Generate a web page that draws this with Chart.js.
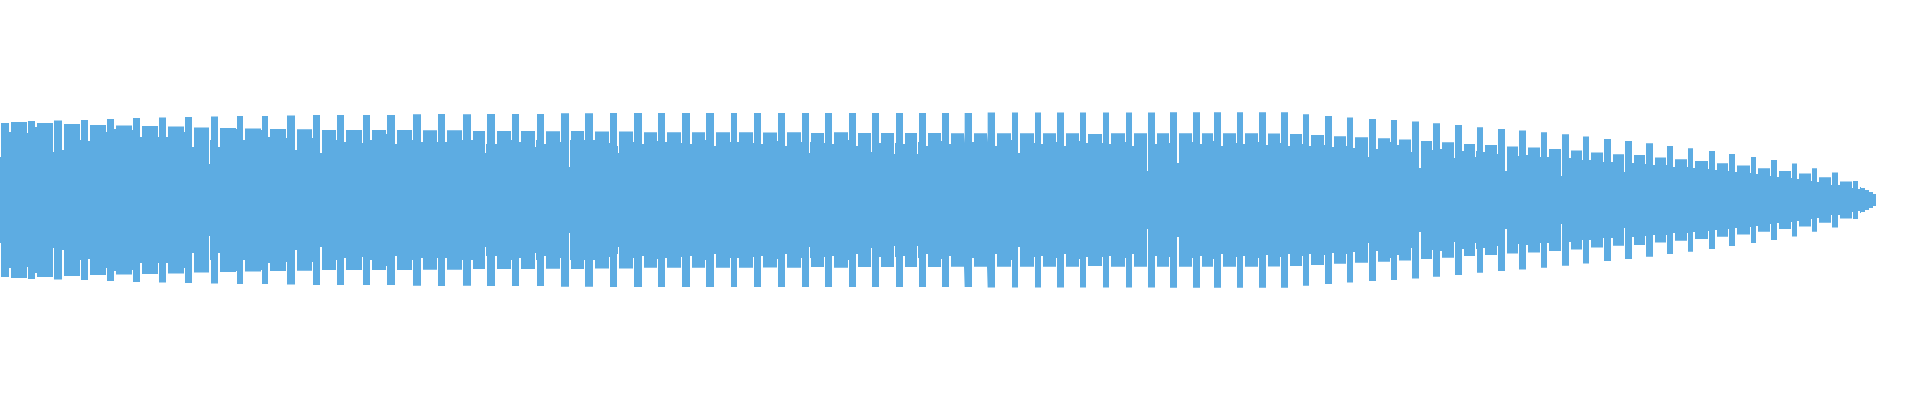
<!DOCTYPE html>
<html>
<head>
<meta charset="utf-8">
<title>Waveform</title>
<script src="https://cdn.jsdelivr.net/npm/chart.js@4.4.1/dist/chart.umd.min.js"></script>
<style>
    html, body { margin: 0; padding: 0; background: #ffffff; }
    #wrap { width: 1920px; height: 400px; position: relative; }
</style>
</head>
<body>
<div id="wrap"><canvas id="wave-chart"></canvas></div>
<script>
// Pulses of the waveform: where each loud pulse starts / ends and its level,
// then the level of the quieter part until the next pulse (normalized -1..1)
var peakStart = [
    1, 28, 54, 81, 107, 133, 159, 185, 211, 237,
    262, 287, 313, 337, 363, 387, 413, 438, 463, 487,
    512, 537, 561, 585, 610, 634, 658, 682, 706, 731,
    754, 778, 802, 825, 849, 872, 896, 919, 942, 965,
    988, 1012, 1035, 1057, 1080, 1103, 1126, 1148, 1170, 1193,
    1214, 1237, 1259, 1281, 1303, 1325, 1347, 1369, 1391, 1412,
    1433, 1455, 1477, 1498, 1519, 1541, 1562, 1583, 1604, 1625,
    1646, 1667, 1688, 1709, 1729, 1751, 1771, 1792, 1812, 1832,
    1853
];
var peakEnd = [
    9, 35, 62, 88, 114, 140, 166, 192, 218, 243,
    268, 295, 320, 344, 370, 395, 421, 445, 471, 495,
    519, 544, 569, 593, 617, 642, 665, 690, 714, 737,
    761, 785, 809, 832, 856, 879, 903, 926, 949, 972,
    995, 1018, 1041, 1064, 1086, 1109, 1132, 1155, 1177, 1200,
    1221, 1243, 1266, 1288, 1309, 1332, 1353, 1376, 1397, 1419,
    1440, 1462, 1483, 1505, 1526, 1547, 1569, 1589, 1611, 1632,
    1653, 1673, 1693, 1715, 1735, 1756, 1777, 1797, 1817, 1838,
    1858
];
var peakAmp = [
    0.385, 0.395, 0.398, 0.4, 0.405, 0.41, 0.413, 0.415, 0.418, 0.42,
    0.42, 0.423, 0.425, 0.425, 0.425, 0.425, 0.429, 0.43, 0.429, 0.43,
    0.43, 0.43, 0.434, 0.434, 0.435, 0.435, 0.435, 0.435, 0.435, 0.435,
    0.435, 0.435, 0.435, 0.435, 0.435, 0.435, 0.435, 0.435, 0.435, 0.435,
    0.437, 0.437, 0.437, 0.437, 0.437, 0.437, 0.437, 0.438, 0.439, 0.439,
    0.439, 0.439, 0.439, 0.439, 0.429, 0.42, 0.412, 0.405, 0.4, 0.392,
    0.384, 0.375, 0.364, 0.355, 0.347, 0.339, 0.329, 0.317, 0.305, 0.295,
    0.284, 0.27, 0.259, 0.245, 0.23, 0.215, 0.2, 0.182, 0.159, 0.137,
    0.095
];
var bodyAmp = [
    0.39, 0.385, 0.38, 0.375, 0.373, 0.37, 0.368, 0.363, 0.36, 0.358,
    0.355, 0.354, 0.35, 0.35, 0.35, 0.35, 0.349, 0.349, 0.345, 0.345,
    0.345, 0.344, 0.345, 0.342, 0.342, 0.339, 0.339, 0.339, 0.339, 0.339,
    0.337, 0.339, 0.335, 0.339, 0.335, 0.335, 0.335, 0.335, 0.334, 0.334,
    0.334, 0.334, 0.334, 0.334, 0.33, 0.334, 0.334, 0.334, 0.334, 0.334,
    0.334, 0.334, 0.332, 0.33, 0.325, 0.319, 0.314, 0.309, 0.302, 0.295,
    0.289, 0.28, 0.275, 0.267, 0.262, 0.255, 0.247, 0.237, 0.229, 0.225,
    0.212, 0.204, 0.195, 0.184, 0.172, 0.159, 0.145, 0.132, 0.114, 0.092,
    0.065
];
// Short drop just before each pulse and just after it
var preDip = [
    0.3, 0.335, 0.34, 0.3, 0.34, 0.35, 0.315, 0.34, 0.3, 0.355,
    0.35, 0.31, 0.31, 0.3, 0.285, 0.33, 0.3, 0.29, 0.3, 0.28,
    0.3, 0.3, 0.29, 0.3, 0.285, 0.29, 0.295, 0.285, 0.3, 0.29,
    0.285, 0.295, 0.29, 0.285, 0.3, 0.29, 0.285, 0.29, 0.295, 0.285,
    0.29, 0.3, 0.285, 0.29, 0.295, 0.285, 0.29, 0.29, 0.285, 0.29,
    0.295, 0.285, 0.29, 0.285, 0.28, 0.275, 0.27, 0.265, 0.29, 0.24,
    0.25, 0.21, 0.245, 0.23, 0.22, 0.215, 0.205, 0.2, 0.19, 0.185,
    0.18, 0.175, 0.165, 0.155, 0.145, 0.135, 0.12, 0.11, 0.095, 0.075,
    0.06
];
var postDip = [
    0.34, 0.365, 0.25, 0.295, 0.355, 0.315, 0.315, 0.265, 0.265, 0.3,
    0.315, 0.25, 0.235, 0.29, 0.3, 0.28, 0.29, 0.29, 0.3, 0.28,
    0.29, 0.28, 0.3, 0.3, 0.27, 0.28, 0.29, 0.28, 0.27, 0.29,
    0.28, 0.27, 0.29, 0.28, 0.27, 0.285, 0.28, 0.27, 0.28, 0.29,
    0.27, 0.235, 0.28, 0.27, 0.285, 0.28, 0.27, 0.28, 0.185, 0.28,
    0.27, 0.28, 0.275, 0.27, 0.27, 0.265, 0.26, 0.255, 0.275, 0.16,
    0.255, 0.245, 0.24, 0.145, 0.225, 0.215, 0.21, 0.2, 0.19, 0.185,
    0.175, 0.165, 0.16, 0.15, 0.14, 0.13, 0.115, 0.105, 0.09, 0.075,
    0.055
];

// Fade-out at the very end
var tailX = [1861, 1865, 1869, 1873];
var tailAmp = [0.06, 0.05, 0.04, 0.03];
var endX = 1876;

// Single-sample dips that show as thin white lines
var notchX = [0, 53, 192, 209, 320, 485, 535, 569, 618, 809, 871, 894, 917, 1018, 1147, 1177, 1368, 1419, 1454, 1475, 1505, 1561, 1624];
var notchAmp = [0.215, 0.24, 0.265, 0.18, 0.235, 0.235, 0.265, 0.165, 0.235, 0.235, 0.24, 0.23, 0.23, 0.235, 0.145, 0.185, 0.215, 0.16, 0.21, 0.215, 0.145, 0.12, 0.14];

var WAVE_COLOR = '#5dace2';

// Turn the pulse lists into an amplitude per sample column
function buildEnvelope() {
    var env = [];
    var i, x;
    for (x = 0; x < endX; x++) {
        env.push(0);
    }
    for (i = 0; i < peakStart.length; i++) {
        var next = (i + 1 < peakStart.length) ? peakStart[i + 1] : tailX[0];
        for (x = peakStart[i]; x < peakEnd[i]; x++) env[x] = peakAmp[i];
        for (x = peakEnd[i]; x < next; x++) env[x] = bodyAmp[i];
    }
    for (i = 0; i < peakStart.length; i++) {
        if (peakStart[i] > 0) env[peakStart[i] - 1] = preDip[i];
        env[peakEnd[i]] = postDip[i];
        env[peakEnd[i] + 1] = postDip[i];
    }
    for (i = 0; i < tailX.length; i++) {
        var stop = (i + 1 < tailX.length) ? tailX[i + 1] : endX;
        for (x = tailX[i]; x < stop; x++) env[x] = tailAmp[i];
    }
    for (i = 0; i < notchX.length; i++) {
        env[notchX[i]] = notchAmp[i];
    }
    return env;
}

// Square steps: every run of equal level becomes two points
function toSteps(env, sign) {
    var pts = [];
    var x0 = 0;
    for (var x = 1; x <= env.length; x++) {
        if (x === env.length || env[x] !== env[x0]) {
            pts.push({ x: x0, y: sign * env[x0] });
            pts.push({ x: x, y: sign * env[x0] });
            x0 = x;
        }
    }
    return pts;
}

function drawWave() {
    var env = buildEnvelope();
    var ctx = document.getElementById('wave-chart').getContext('2d');
    var waveChart = new Chart(ctx, {
        type: 'line',
        data: {
            datasets: [{
                data: toSteps(env, 1),
                borderWidth: 0,
                borderColor: WAVE_COLOR,
                backgroundColor: WAVE_COLOR,
                pointRadius: 0,
                tension: 0,
                fill: 'origin'
            }, {
                data: toSteps(env, -1),
                borderWidth: 0,
                borderColor: WAVE_COLOR,
                backgroundColor: WAVE_COLOR,
                pointRadius: 0,
                tension: 0,
                fill: 'origin'
            }]
        },
        options: {
            responsive: true,
            maintainAspectRatio: false,
            animation: false,
            layout: { padding: 0 },
            plugins: {
                legend: { display: false },
                tooltip: { enabled: false }
            },
            scales: {
                x: { type: 'linear', min: 0, max: 1920, display: false },
                y: { min: -1, max: 1, display: false }
            }
        }
    });
}

drawWave();
</script>
</body>
</html>
